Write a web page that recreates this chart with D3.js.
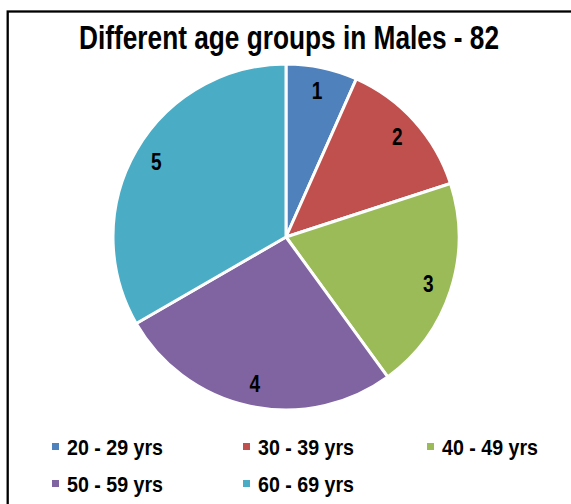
<!DOCTYPE html>
<html>
<head>
<meta charset="utf-8">
<script src="https://cdn.jsdelivr.net/npm/d3@7"></script>
<style>
  body { margin: 0; background: #fff; }
  svg { display: block; font-family: "Liberation Sans", Arial, sans-serif; font-weight: bold; }
</style>
</head>
<body>
<svg id="chart" width="571" height="504"></svg>
<script>
const categories = ["20 - 29 yrs", "30 - 39 yrs", "40 - 49 yrs", "50 - 59 yrs", "60 - 69 yrs"];
const values = [1, 2, 3, 4, 5];
const sliceLabels = ["1", "2", "3", "4", "5"];
const colors = ["#4F81BD", "#C0504D", "#9BBB59", "#8064A2", "#4BACC6"];
const title = "Different age groups in Males - 82";

const width = 571, height = 504;
const cx = 286, cy = 237, radius = 173;
const NARROW = 0.83; // no Arial Narrow here, squeeze the regular face

const svg = d3.select("#chart");

// chart frame (runs off the right and bottom edge)
svg.append("rect")
  .attr("x", 7.7).attr("y", 11.5)
  .attr("width", width).attr("height", height)
  .attr("fill", "none")
  .attr("stroke", "#000")
  .attr("stroke-width", 2.3);

svg.append("text")
  .attr("x", 79).attr("y", 49)
  .attr("textLength", 420)
  .attr("lengthAdjust", "spacingAndGlyphs")
  .style("font-size", "34px")
  .text(title);

const data = categories.map((c, i) => ({ cat: c, value: values[i], label: sliceLabels[i], color: colors[i] }));

const pie = d3.pie().value((d) => d.value).sort(null);
const arc = d3.arc().innerRadius(0).outerRadius(radius);
const labelArc = d3.arc().innerRadius(radius * 0.865).outerRadius(radius * 0.865);

const g = svg.append("g").attr("transform", `translate(${cx},${cy})`);

const slices = g.selectAll(".slice")
  .data(pie(data))
  .join("g")
  .attr("class", "slice");

slices.append("path")
  .attr("d", arc)
  .attr("fill", (d) => d.data.color)
  .attr("stroke", "#fff")
  .attr("stroke-width", 3)
  .attr("stroke-linejoin", "round");

slices.append("text")
  .attr("transform", (d) => `translate(${labelArc.centroid(d)}) scale(${NARROW},1)`)
  .attr("text-anchor", "middle")
  .attr("dy", "0.36em")
  .style("font-size", "23px")
  .text((d) => d.data.label);

// legend, 3 columns
const legendX = [52, 243, 427];
const legendY = [446.5, 483.5];
const legend = svg.selectAll(".legend")
  .data(data)
  .join("g")
  .attr("class", "legend")
  .attr("transform", (d, i) => `translate(${legendX[i % 3]},${legendY[Math.floor(i / 3)]})`);

legend.append("rect")
  .attr("x", 0).attr("y", -3.5)
  .attr("width", 7).attr("height", 7)
  .attr("fill", (d) => d.color);

legend.append("text")
  .attr("x", 15)
  .attr("y", 8.5)
  .attr("textLength", 96)
  .attr("lengthAdjust", "spacingAndGlyphs")
  .style("font-size", "22px")
  .text((d) => d.cat);
</script>
</body>
</html>
